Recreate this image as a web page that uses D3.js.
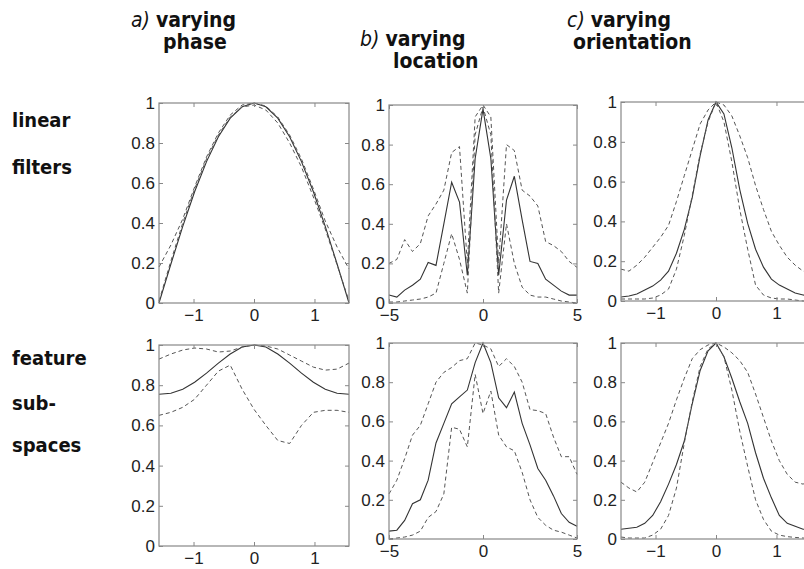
<!DOCTYPE html>
<html>
<head>
    <meta charset="utf-8">
    <script src="https://d3js.org/d3.v7.min.js"></script>
    <style>
        body { margin: 0; background: #fff; }
        svg { display: block; }
        .tick text { font-family: "Liberation Sans", Arial, sans-serif; font-size: 17px; fill: #222; }
        .tick line { stroke: #888; }
        .domain { display: none; }
        .title, .rowlab { font-family: "DejaVu Sans Condensed", "DejaVu Sans", sans-serif; font-size: 20px; fill: #111; }
        .title { font-size: 21px; }
        .title tspan.b, .rowlab { font-weight: bold; }
        .title tspan.i { font-style: italic; font-weight: normal; }
    </style>
</head>
<body>
<svg id="chart" width="804" height="569"></svg>
<script>
    // x grids
    const xPhase = [-1.571, -1.374, -1.178, -0.982, -0.785, -0.589, -0.393, -0.196, 0,
                    0.196, 0.393, 0.589, 0.785, 0.982, 1.178, 1.374, 1.571];
    const xLoc = [-5, -4.583, -4.167, -3.75, -3.333, -2.917, -2.5, -2.083, -1.667, -1.25, -0.833, -0.417, 0,
                  0.417, 0.833, 1.25, 1.667, 2.083, 2.5, 2.917, 3.333, 3.75, 4.167, 4.583, 5];
    const xOri = [-1.571, -1.440, -1.309, -1.178, -1.047, -0.916, -0.785, -0.654, -0.524, -0.393, -0.262, -0.131, 0,
                  0.131, 0.262, 0.393, 0.524, 0.654, 0.785, 0.916, 1.047, 1.178, 1.309, 1.440, 1.571];

    // linear filters, varying phase
    const linPhaseMean = [0, .195, .383, .556, .707, .831, .924, .981, 1, .981, .924, .831, .707, .556, .383, .195, 0];
    const linPhaseHi   = [.18, .29, .42, .58, .73, .85, .94, .99, 1, .985, .93, .84, .72, .57, .41, .28, .17];
    const linPhaseLo   = [.01, .21, .40, .57, .72, .84, .93, .98, .99, .965, .90, .80, .68, .53, .37, .19, .01];

    // linear filters, varying location
    const linLocMean = [.04, .03, .065, .09, .12, .205, .19, .40, .61, .51, .14, .73, .98,
                        .73, .14, .52, .64, .42, .21, .20, .12, .09, .06, .04, .04];
    const linLocHi   = [.20, .22, .32, .26, .30, .44, .50, .57, .76, .79, .20, .94, 1,
                        .94, .20, .80, .77, .57, .54, .49, .31, .29, .26, .21, .18];
    const linLocLo   = [.005, .005, .01, .015, .02, .03, .05, .20, .35, .22, .05, .85, .99,
                        .85, .05, .40, .20, .08, .04, .03, .03, .02, .01, .005, 0];

    // linear filters, varying orientation
    const linOriMean = [.02, .025, .035, .055, .075, .105, .15, .24, .36, .52, .73, .91, 1,
                        .94, .77, .56, .39, .26, .17, .11, .08, .06, .04, .03, .025];
    const linOriHi   = [.16, .15, .18, .22, .27, .32, .38, .50, .63, .76, .89, .96, 1,
                        .985, .93, .83, .72, .58, .46, .35, .28, .22, .18, .15, .14];
    const linOriLo   = [.01, .01, .01, .01, .015, .03, .06, .16, .33, .53, .74, .90, 1,
                        .90, .70, .46, .26, .08, .03, .015, .01, .01, .005, 0, 0];

    // feature subspaces, varying phase
    const subPhaseMean = [.755, .76, .78, .815, .86, .91, .955, .99, 1, .99, .955, .91, .86, .815, .78, .76, .755];
    const subPhaseHi   = [.93, .955, .975, .985, .98, .965, .97, .99, 1, .995, .98, .95, .92, .89, .875, .88, .91];
    const subPhaseLo   = [.65, .665, .69, .73, .80, .87, .90, .78, .68, .60, .525, .51, .60, .665, .675, .675, .665];

    // feature subspaces, varying location
    const subLocMean = [.04, .045, .095, .18, .20, .30, .49, .59, .69, .725, .76, .90, 1,
                        .90, .72, .67, .75, .59, .48, .36, .30, .22, .13, .085, .065];
    const subLocHi   = [.23, .30, .41, .53, .58, .69, .80, .85, .875, .91, .92, 1.0, .99,
                        .97, .88, .92, .88, .80, .66, .655, .64, .52, .42, .42, .33];
    const subLocLo   = [0, .005, .01, .02, .04, .11, .14, .23, .57, .56, .47, .84, .64,
                        .755, .53, .47, .45, .34, .20, .11, .07, .045, .035, .02, .005];

    // feature subspaces, varying orientation
    const subOriMean = [.05, .055, .06, .08, .12, .19, .28, .38, .50, .69, .86, .96, 1,
                        .93, .82, .70, .59, .44, .31, .21, .12, .08, .065, .05, .045];
    const subOriHi   = [.29, .26, .24, .29, .39, .49, .59, .71, .82, .92, .966, .99, 1,
                        .98, .95, .91, .85, .74, .62, .50, .40, .33, .29, .28, .30];
    const subOriLo   = [.01, .005, .005, .005, .02, .05, .12, .26, .49, .70, .88, .97, 1,
                        .93, .76, .55, .37, .20, .10, .04, .02, .012, .008, .005, .005];

    const yTicks = [0, 0.2, 0.4, 0.6, 0.8, 1];
    const yTickLabels = ["0", "0.2", "0.4", "0.6", "0.8", "1"];
    const xTicksAngle = [-1, 0, 1];
    const xTicksLoc = [-5, 0, 5];

    const colTitles = [
        {tag: "a)", lines: ["varying", "phase"], x: 131, dx2: 32, y: 27},
        {tag: "b)", lines: ["varying", "location"], x: 360, dx2: 33, y: 46},
        {tag: "c)", lines: ["varying", "orientation"], x: 567, dx2: 6, y: 27}
    ];
    const rowLabels = [
        {text: "linear", y: 127}, {text: "filters", y: 174},
        {text: "feature", y: 365}, {text: "sub-", y: 410}, {text: "spaces", y: 452}
    ];

    const panels = [
        {x: xPhase, s: [linPhaseMean, linPhaseHi, linPhaseLo], dom: [-Math.PI / 2, Math.PI / 2], xt: xTicksAngle, box: [159, 349, 103, 303]},
        {x: xLoc, s: [linLocMean, linLocHi, linLocLo], dom: [-5, 5], xt: xTicksLoc, box: [389, 577, 105, 303]},
        {x: xOri, s: [linOriMean, linOriHi, linOriLo], dom: [-Math.PI / 2, Math.PI / 2], xt: xTicksAngle, box: [621, 811, 102, 301]},
        {x: xPhase, s: [subPhaseMean, subPhaseHi, subPhaseLo], dom: [-Math.PI / 2, Math.PI / 2], xt: xTicksAngle, box: [159, 349, 345, 546]},
        {x: xLoc, s: [subLocMean, subLocHi, subLocLo], dom: [-5, 5], xt: xTicksLoc, box: [389, 577, 343, 539]},
        {x: xOri, s: [subOriMean, subOriHi, subOriLo], dom: [-Math.PI / 2, Math.PI / 2], xt: xTicksAngle, box: [621, 811, 343, 539]}
    ];

    const svg = d3.select("#chart");

    panels.forEach(p => {
        const [x0, x1, y0, y1] = p.box;
        const x = d3.scaleLinear().domain(p.dom).range([x0, x1]);
        const y = d3.scaleLinear().domain([0, 1]).range([y1, y0]);
        const g = svg.append("g");

        // curves: solid mean, dashed spread
        const line = d3.line().x((d, i) => x(p.x[i])).y(d => y(d));
        p.s.forEach((vals, k) => {
            g.append("path")
                .datum(vals)
                .attr("d", line)
                .attr("fill", "none")
                .attr("stroke", k === 0 ? "#333" : "#555")
                .attr("stroke-width", k === 0 ? 1.1 : 1)
                .attr("stroke-dasharray", k === 0 ? null : "4,3");
        });

        // box
        g.append("rect")
            .attr("x", x0).attr("y", y0)
            .attr("width", x1 - x0).attr("height", y1 - y0)
            .attr("fill", "none").attr("stroke", "#888").attr("stroke-width", 1.2);

        const fmt = v => yTickLabels[yTicks.indexOf(v)];
        g.append("g").attr("transform", `translate(${x0},0)`)
            .call(d3.axisLeft(y).tickValues(yTicks).tickFormat(fmt).tickSize(-4).tickSizeOuter(0).tickPadding(4));
        g.append("g").attr("transform", `translate(${x1},0)`)
            .call(d3.axisRight(y).tickValues(yTicks).tickFormat("").tickSize(-4).tickSizeOuter(0));
        g.append("g").attr("transform", `translate(0,${y1})`)
            .call(d3.axisBottom(x).tickValues(p.xt).tickFormat(d => d < 0 ? "\u2212" + Math.abs(d) : d)
                .tickSize(-4).tickSizeOuter(0).tickPadding(6));
        g.append("g").attr("transform", `translate(0,${y0})`)
            .call(d3.axisTop(x).tickValues(p.xt).tickFormat("").tickSize(-4).tickSizeOuter(0));
    });

    // column titles
    colTitles.forEach(t => {
        const tx = svg.append("text").attr("class", "title").attr("x", t.x).attr("y", t.y);
        tx.append("tspan").attr("class", "i").text(t.tag + " ");
        tx.append("tspan").attr("class", "b").text(t.lines[0]);
        svg.append("text").attr("class", "title")
            .attr("x", t.x + t.dx2).attr("y", t.y + 22)
            .append("tspan").attr("class", "b").text(t.lines[1]);
    });

    // row labels
    svg.selectAll(".rowlab")
        .data(rowLabels)
        .join("text")
        .attr("class", "rowlab")
        .attr("x", 12)
        .attr("y", d => d.y)
        .text(d => d.text);
</script>
</body>
</html>
